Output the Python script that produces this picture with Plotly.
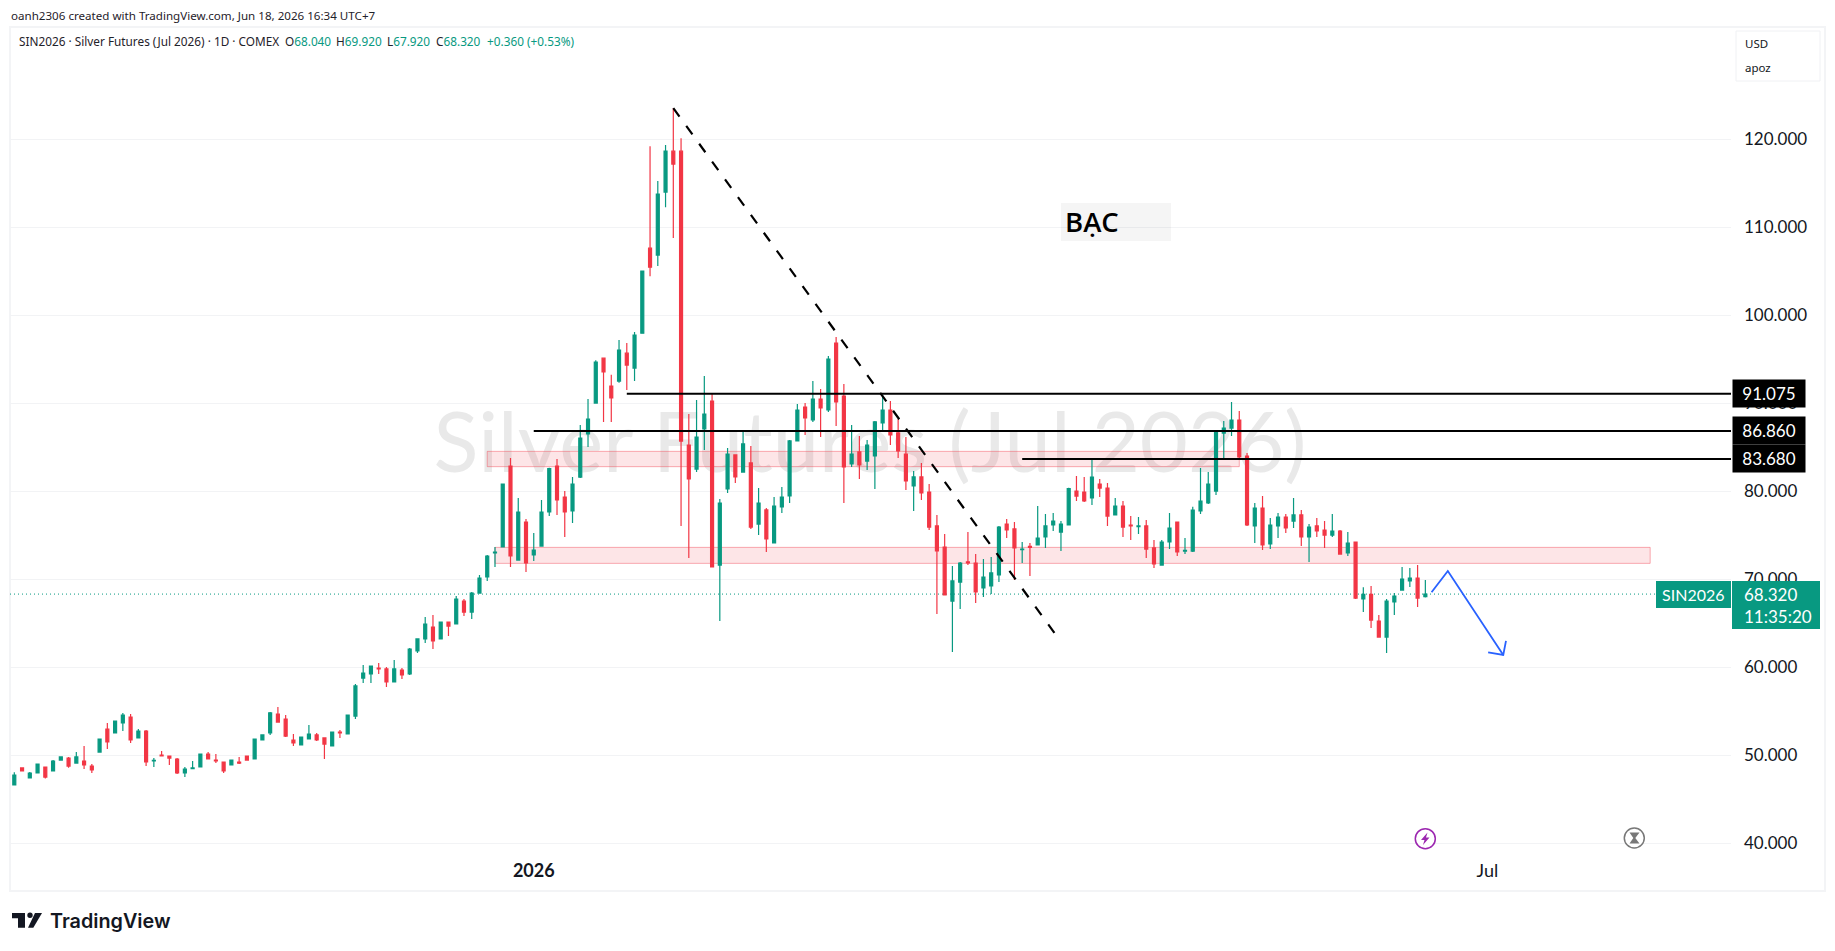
import plotly.graph_objects as go

W, H = 1835, 951

# Daily sessions of the Jul 2026 silver contract
opens = [46.63,48.56,47.42,47.99,48.67,48.22,49.46,49.69,49.12,49.35,48.78,50.37,52.99,52.54,53.67,54.35,51.97,52.76,49.35,50.03,
         49.92,49.58,47.99,48.48,48.67,50.15,49.46,49.24,48.90,49.24,49.92,49.58,51.74,52.54,54.69,54.12,51.74,51.17,51.85,52.31,
         51.97,51.06,52.65,52.42,54.46,58.78,59.24,59.92,59.81,58.33,59.69,59.24,61.85,63.22,64.58,63.22,65.15,64.92,67.53,66.28,
         68.44,70.26,72.99,73.67,82.87,72.19,76.51,72.76,73.78,77.65,82.87,79.35,77.76,81.62,86.51,90.03,95.13,91.96,92.53,95.70,
         94.00,97.97,107.63,106.84,114.00,118.65,118.65,85.26,82.53,87.08,90.26,71.62,80.26,84.13,82.19,83.22,76.28,77.88,74.13,78.22,
         79.47,85.72,89.58,88.10,90.49,89.24,96.85,90.83,83.10,84.47,83.44,84.01,87.76,89.24,86.63,84.24,80.60,81.63,79.92,76.06,
         73.67,67.53,69.69,71.97,71.85,69.01,69.24,70.49,76.28,75.72,73.37,73.75,73.90,74.81,76.17,75.37,76.17,80.03,79.92,79.24,
         80.83,80.37,77.31,78.33,76.17,75.98,76.06,73.56,71.62,74.24,76.51,73.21,73.21,77.76,78.67,80.03,86.62,87.19,88.10,84.01,
         76.06,78.10,74.01,76.06,77.08,76.62,77.31,74.81,76.06,75.60,75.03,75.49,72.99,74.24,67.76,68.29,65.26,63.44,67.42,68.78,
         69.81,70.15,68.04]
highs = [48.06,48.56,48.10,49.01,48.67,49.46,49.81,49.81,50.37,51.06,49.01,51.85,53.67,53.90,54.81,54.69,52.99,52.88,49.69,50.49,
         49.92,49.69,48.67,49.35,50.15,50.37,50.15,49.24,49.46,49.81,49.92,51.85,52.31,54.92,55.49,54.58,52.42,52.08,53.44,52.54,
         51.97,52.65,52.88,54.58,58.10,60.26,60.15,60.49,60.03,60.83,59.92,62.19,63.22,65.72,65.94,65.15,65.15,68.10,67.76,68.56,
         70.49,72.76,73.67,80.83,83.78,79.24,76.85,75.26,79.01,82.68,83.67,80.03,81.62,87.53,90.49,94.90,95.20,93.25,97.18,96.84,
         98.09,105.02,119.22,115.25,119.34,123.54,120.13,88.78,90.37,93.10,91.05,79.13,84.92,84.13,86.85,85.15,80.38,78.10,79.35,80.49,
         85.83,89.92,90.03,92.53,91.63,95.38,97.53,92.19,87.53,86.28,85.83,87.99,90.94,90.26,88.22,86.17,82.31,83.22,80.83,77.31,
         75.15,71.51,71.97,75.38,72.88,72.31,72.53,76.06,76.85,76.51,74.24,74.13,78.33,77.42,77.53,76.62,80.41,81.74,81.62,83.78,
         81.40,80.94,79.24,78.90,77.19,77.08,76.74,74.46,74.46,77.53,76.51,74.69,78.25,82.65,82.19,86.96,87.99,90.15,89.12,84.35,
         78.67,79.46,76.96,77.53,77.42,79.24,77.87,76.28,76.96,76.62,77.42,75.60,75.37,74.24,69.09,69.24,65.94,67.76,68.44,71.40,
         71.28,71.62,69.92]
lows = [46.63,48.22,47.42,47.99,47.35,48.22,49.46,48.59,49.12,48.44,47.99,50.37,50.72,52.54,52.76,51.40,51.97,48.78,48.67,49.92,
        48.90,47.88,47.53,48.48,48.67,49.58,49.12,47.99,48.90,49.01,49.46,49.58,51.74,52.31,53.78,52.08,51.06,51.17,51.85,51.63,
        49.58,51.06,51.97,52.42,54.12,58.22,58.22,59.24,57.76,58.33,58.67,59.13,61.63,62.76,62.08,63.22,63.56,64.92,65.83,65.49,
        68.44,69.81,71.40,73.67,71.40,72.19,70.83,72.08,73.78,77.19,77.31,74.81,76.40,81.51,85.03,90.03,87.87,87.87,92.34,91.51,
        92.53,97.97,104.45,105.59,112.29,108.77,76.05,72.42,82.19,84.69,71.40,65.26,79.81,80.94,82.19,75.72,75.03,73.10,74.13,77.53,
        78.67,85.72,86.40,87.88,86.17,89.01,87.42,78.67,82.76,81.40,82.42,80.26,86.74,85.26,83.78,80.15,77.76,79.01,75.60,66.06,
        68.22,61.74,66.63,71.63,67.31,67.99,68.33,69.69,74.69,69.92,71.85,70.38,73.90,73.56,75.49,73.21,76.17,78.90,78.78,78.44,
        79.35,76.06,77.31,74.81,74.46,75.15,72.42,71.28,71.62,73.44,72.65,72.87,73.10,77.42,78.56,79.58,83.67,86.28,83.67,76.06,
        74.12,73.33,73.44,74.69,75.26,75.83,73.78,71.96,74.81,73.56,74.81,72.87,72.65,67.76,66.28,64.47,63.44,61.62,65.94,68.78,
        69.12,66.85,67.92]
closes = [47.76,48.22,47.99,49.01,47.53,49.35,49.81,48.78,49.81,48.90,48.33,51.85,51.51,53.90,54.58,51.74,52.76,49.24,49.43,49.92,
          49.69,47.99,48.44,48.56,50.15,49.58,49.35,48.22,49.46,49.12,49.46,51.85,52.31,54.81,53.78,52.19,51.40,52.08,52.42,51.74,
          51.28,52.65,52.54,54.58,57.88,59.35,60.15,59.81,58.33,59.81,59.13,62.08,63.22,64.92,62.99,65.15,64.69,67.76,66.28,68.44,
          70.15,72.65,73.10,80.83,72.65,77.65,71.85,73.33,77.65,82.57,79.01,77.65,80.83,86.05,88.21,94.68,93.56,90.60,96.04,94.34,
          97.75,105.02,105.47,113.77,118.65,117.18,85.71,81.40,86.17,88.78,71.40,78.67,84.24,81.63,85.38,75.94,78.67,74.58,78.33,79.35,
          85.72,89.24,88.33,90.49,89.47,95.03,90.15,82.76,84.24,82.99,85.26,87.88,89.24,86.40,84.58,81.17,81.63,79.81,75.94,73.22,
          68.22,69.81,71.85,71.85,68.56,70.26,70.72,75.94,75.60,73.56,73.44,73.63,74.69,76.06,76.62,76.28,80.30,79.46,78.90,81.62,
          80.37,77.19,78.33,75.94,76.06,76.06,73.44,71.74,74.24,75.83,73.10,73.29,77.87,78.90,80.83,86.85,87.19,88.10,83.90,76.17,
          78.10,73.90,76.17,77.08,75.83,77.31,74.81,75.94,75.49,75.03,75.49,72.87,74.12,67.87,68.29,65.37,63.44,67.53,68.10,70.03,
          70.15,67.87,68.32]
sessions = list(range(len(closes)))

# Time axis labels, placed on session numbers
time_ticks = [67, 190]
time_labels = ["<b>2026</b>", "Jul"]
price_ticks = [40, 50, 60, 70, 80, 90, 100, 110, 120]

# Analyst drawings, in session number / price units
level_prices = [91.075, 86.860, 83.680]
level_starts = [79, 67, 130]
zone_x = [[61, 158], [62, 211]]
zone_prices = [[82.80, 84.54], [71.81, 73.63]]
trend_x = [85, 134.25]
trend_prices = [123.54, 63.80]
arrow_x = [182.8, 184.9, 192.05, None, 190.1, 192.05, 192.4]
arrow_prices = [68.52, 70.94, 61.40, None, 61.70, 61.40, 63.00]
last_price = closes[-1]

GREEN = "#089981"
RED = "#F23645"
FONT = "Lato"

# Pixel frame of the price pane
LEFT, RIGHT, TOP, BOTTOM = 10, 1731, 27, 858
X_AT_ZERO, X_STEP = 14.3, 7.753
Y_70, Y_PER_UNIT = 579.3, 8.8


def px(x):
    return x / W


def py(y):
    return 1 - y / H


def poly(points, close=True):
    body = " L".join(f"{px(x):.5f},{py(y):.5f}" for x, y in points)
    return "M" + body + (" Z" if close else "")


x_range = [(LEFT - X_AT_ZERO) / X_STEP, (RIGHT - X_AT_ZERO) / X_STEP]
y_range = [70 + (Y_70 - BOTTOM) / Y_PER_UNIT, 70 + (Y_70 - TOP) / Y_PER_UNIT]

fig = go.Figure()

fig.add_trace(go.Candlestick(
    x=sessions, open=opens, high=highs, low=lows, close=closes,
    whiskerwidth=0, hoverinfo="skip", showlegend=False,
    increasing=dict(line=dict(color=GREEN, width=1.2), fillcolor=GREEN),
    decreasing=dict(line=dict(color=RED, width=1.2), fillcolor=RED),
))

# Support / resistance levels running into the price scale
for price, start in zip(level_prices, level_starts):
    fig.add_trace(go.Scatter(
        x=[start, x_range[1]], y=[price, price], mode="lines",
        line=dict(color="#000000", width=2), hoverinfo="skip", showlegend=False,
    ))

# Falling trend line
fig.add_trace(go.Scatter(
    x=trend_x, y=trend_prices, mode="lines",
    line=dict(color="#000000", width=2.2, dash="10.5px,11.5px"), hoverinfo="skip", showlegend=False,
))

# Projected path arrow
fig.add_trace(go.Scatter(
    x=arrow_x, y=arrow_prices, mode="lines",
    line=dict(color="#2962FF", width=1.8), hoverinfo="skip", showlegend=False,
))

shapes = []

# Symbol watermark sits under everything else
shapes.append(dict(
    type="rect", xref="paper", yref="paper", layer="below",
    x0=px(370), x1=px(1370), y0=py(389), y1=py(489),
    line=dict(width=0), fillcolor="rgba(0,0,0,0)",
    label=dict(text="Silver Futures (Jul 2026)", textposition="middle center",
               font=dict(family=FONT, size=83, color="#e9e9e9")),
))

# Supply and demand zones
for (x0, x1), (p0, p1) in zip(zone_x, zone_prices):
    shapes.append(dict(
        type="rect", xref="x", yref="y", layer="below", x0=x0, x1=x1, y0=p0, y1=p1,
        fillcolor="rgba(242,54,69,0.13)", line=dict(color="rgba(242,54,69,0.40)", width=1),
    ))

# Last price marker line
shapes.append(dict(
    type="line", xref="x", yref="y", layer="below",
    x0=x_range[0], x1=(1656 - X_AT_ZERO) / X_STEP, y0=last_price, y1=last_price,
    line=dict(color=GREEN, width=1, dash="1px,3px"),
))

# Pane frame
shapes.append(dict(type="rect", xref="paper", yref="paper", layer="below",
                   x0=px(10), x1=px(1825), y0=py(891), y1=py(27),
                   line=dict(color="#f3f4f6", width=2), fillcolor="rgba(0,0,0,0)"))

# Legend box top right
shapes.append(dict(type="rect", xref="paper", yref="paper", layer="above",
                   x0=px(1736), x1=px(1820), y0=py(81), y1=py(31),
                   line=dict(color="#f0f1f4", width=1), fillcolor="#ffffff"))

# Note background
shapes.append(dict(type="rect", xref="paper", yref="paper", layer="above",
                   x0=px(1061), x1=px(1171), y0=py(241), y1=py(203),
                   line=dict(width=0), fillcolor="rgba(0,0,0,0.04)"))

# Tags of the last price on the time and price scales
shapes.append(dict(type="rect", xref="paper", yref="paper", layer="above",
                   x0=px(1656), x1=px(1731), y0=py(608), y1=py(581),
                   line=dict(width=0), fillcolor=GREEN))
shapes.append(dict(type="rect", xref="paper", yref="paper", layer="above",
                   x0=px(1732), x1=px(1820), y0=py(629), y1=py(581),
                   line=dict(width=0), fillcolor=GREEN))

# Event icons on the time scale
shapes.append(dict(type="circle", xref="paper", yref="paper", layer="above",
                   x0=px(1415.3), x1=px(1435.3), y0=py(848.7), y1=py(828.7),
                   line=dict(color="#9C27B0", width=1.5), fillcolor="#ffffff"))
shapes.append(dict(type="path", xref="paper", yref="paper", layer="above",
                   path=poly([(1427.5, 832.5), (1421, 840), (1424.5, 840), (1423, 845),
                              (1429.5, 837.5), (1426, 837.5)]),
                   line=dict(width=0), fillcolor="#9C27B0"))
shapes.append(dict(type="circle", xref="paper", yref="paper", layer="above",
                   x0=px(1624.3), x1=px(1644.3), y0=py(848), y1=py(828),
                   line=dict(color="#787878", width=1.5), fillcolor="#ffffff"))
shapes.append(dict(type="path", xref="paper", yref="paper", layer="above",
                   path=poly([(1629.5, 832.5), (1639.5, 832.5), (1635.3, 838),
                              (1639.5, 843.5), (1629.5, 843.5), (1633.3, 838)]),
                   line=dict(width=0), fillcolor="#787878"))

# Brand mark under the pane
shapes.append(dict(type="path", xref="paper", yref="paper", layer="above",
                   path=poly([(12, 913), (25, 913), (25, 927.7), (18, 927.7), (18, 918.3), (12, 918.3)]),
                   line=dict(width=0), fillcolor="#131722"))
shapes.append(dict(type="circle", xref="paper", yref="paper", layer="above",
                   x0=px(27.3), x1=px(32.7), y0=py(918), y1=py(912.6),
                   line=dict(width=0), fillcolor="#131722"))
shapes.append(dict(type="path", xref="paper", yref="paper", layer="above",
                   path=poly([(35, 913), (42, 913), (33.3, 927.7), (28, 927.7)]),
                   line=dict(width=0), fillcolor="#131722"))


def note(text, x, y, size=12, color="#131722", family=FONT, anchor="left", **kw):
    return dict(text=text, xref="paper", yref="paper", x=px(x), y=py(y), xanchor=anchor, yanchor="middle",
                showarrow=False, font=dict(family=family, size=size, color=color), borderpad=0, **kw)


annotations = []

# Level tags on the price scale
for price in level_prices:
    annotations.append(dict(
        text=f"{price:.3f}", xref="paper", yref="y", x=px(1732), y=price, xanchor="left", yanchor="middle",
        width=72, height=27, align="center", valign="middle", bgcolor="#000000", borderpad=0,
        showarrow=False, font=dict(family=FONT, size=17, color="#ffffff"),
    ))

# Last price tag texts
annotations.append(note("SIN2026", 1693.5, 594.5, size=16, color="#ffffff", anchor="center"))
annotations.append(note(f"{last_price:.3f}", 1743, 594.5, size=17, color="#ffffff"))
annotations.append(note("11:35:20", 1743, 616, size=17, color="#ffffff"))

# Header lines
annotations.append(note("oanh2306 created with TradingView.com, Jun 18, 2026 16:34 UTC+7", 9.5, 15,
                        size=11.6, family="Noto Sans", color="#1f222a"))
annotations.append(note("SIN2026 · Silver Futures (Jul 2026) · 1D · COMEX", 18, 41,
                        size=11.8, family="Noto Sans", color="#1f222a"))
ohlc_parts = [("O", "68.040", 284), ("H", "69.920", 334.5), ("L", "67.920", 386), ("C", "68.320", 435)]
for letter, value, x in ohlc_parts:
    annotations.append(note(f'{letter}<span style="color:{GREEN}">{value}</span>', x, 41,
                            size=11.8, family="Noto Sans", color="#1f222a"))
annotations.append(note("+0.360 (+0.53%)", 485.6, 41, size=11.8, family="Noto Sans", color=GREEN))

annotations.append(note("USD", 1744, 43, size=11.5, family="Noto Sans"))
annotations.append(note("apoz", 1744, 67, size=11.5, family="Noto Sans"))

annotations.append(note("BẠC", 1064, 221, size=27.5, family="Open Sans", color="#000000"))
annotations[-1]["font"]["weight"] = 600

annotations.append(note("TradingView", 49, 921, size=19.8, family="Inter", color="#131722"))
annotations[-1]["font"]["weight"] = 600

fig.update_layout(
    width=W, height=H, autosize=False,
    margin=dict(l=0, r=0, t=0, b=0, pad=0),
    paper_bgcolor="#ffffff", plot_bgcolor="#ffffff",
    showlegend=False, boxgap=0.45, dragmode=False,
    shapes=shapes, annotations=annotations,
    xaxis=dict(
        domain=[px(LEFT), px(RIGHT)], range=x_range, type="linear",
        rangeslider=dict(visible=False), showgrid=False, zeroline=False, showline=False,
        tickmode="array", tickvals=time_ticks, ticktext=time_labels, ticks="",
        tickfont=dict(family=FONT, size=18, color="#131722"), ticklabelstandoff=0,
    ),
    yaxis=dict(
        domain=[py(BOTTOM), py(TOP)], range=y_range, side="right",
        showgrid=True, gridcolor="#f2f3f5", gridwidth=1, zeroline=False, showline=False,
        tickmode="array", tickvals=price_ticks, tickformat=".3f", ticks="",
        tickfont=dict(family=FONT, size=17, color="#131722"), ticklabelstandoff=12,
    ),
)

fig.write_html("out.html", config=dict(displayModeBar=False))
